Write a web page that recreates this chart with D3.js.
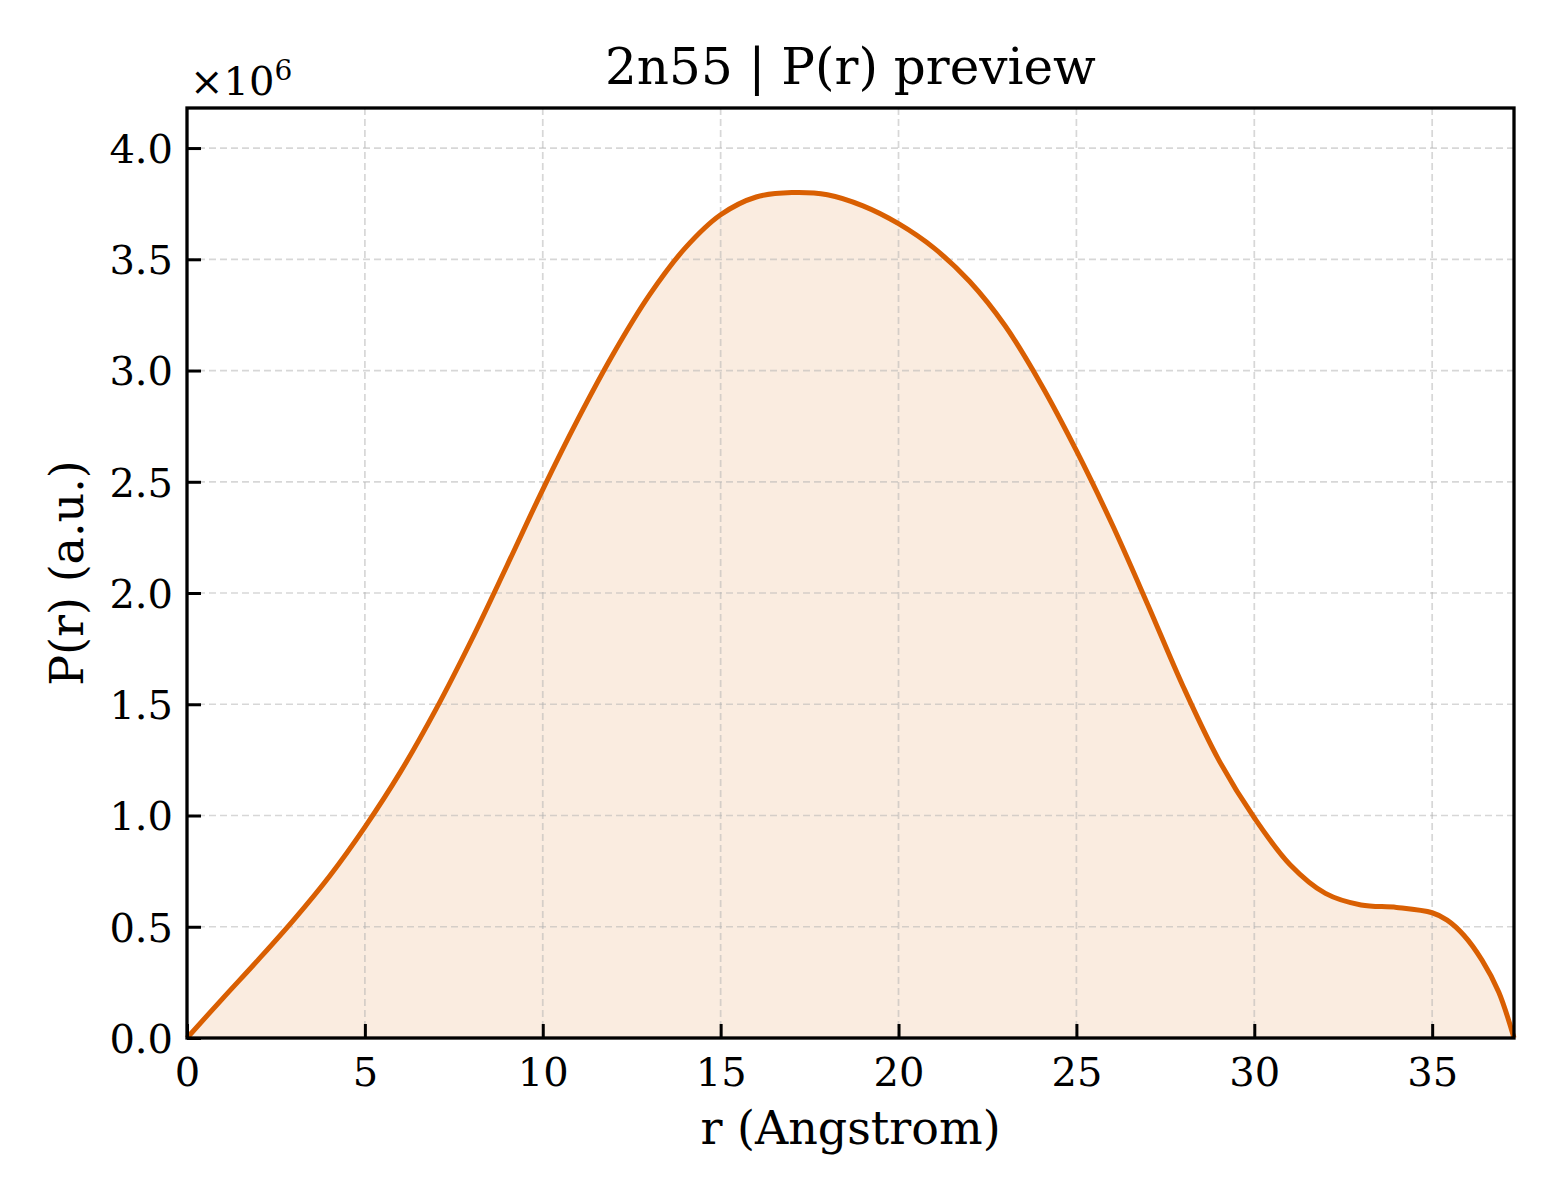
<!DOCTYPE html>
<html>
<head>
<meta charset="utf-8">
<script src="https://cdn.jsdelivr.net/npm/d3@7/dist/d3.min.js"></script>
<style>
  html, body { margin: 0; padding: 0; background: #fff; }
  svg { display: block; }
  text { font-family: "DejaVu Serif", serif; fill: #000; }
</style>
</head>
<body>
<svg id="chart" width="1560" height="1200"></svg>
<script>
// Data (r in Angstrom, P(r) in units of 1e6)
const rValues = [0, 1, 2, 3, 4, 5, 6, 7, 8, 9, 10, 11, 12, 13, 14, 15, 16, 17, 18, 19, 20,
                 21, 22, 23, 24, 25, 26, 27, 28, 29, 30, 31, 32, 33, 34, 35, 35.42, 35.89, 36.4, 36.87, 37.3];
const pValues = [0, 0.177, 0.351, 0.531, 0.726, 0.948, 1.196, 1.478, 1.79, 2.125, 2.465, 2.785, 3.08, 3.34, 3.55, 3.70, 3.78, 3.80, 3.79, 3.74, 3.66,
                 3.55, 3.40, 3.20, 2.94, 2.64, 2.31, 1.95, 1.58, 1.25, 0.99, 0.78, 0.65, 0.598, 0.587, 0.563, 0.53, 0.462, 0.35, 0.207, 0];
const xTicks = [0, 5, 10, 15, 20, 25, 30, 35];
const yTicks = [0, 0.5, 1.0, 1.5, 2.0, 2.5, 3.0, 3.5, 4.0];
const titleText = "2n55 | P(r) preview";
const xLabel = "r (Angstrom)";
const yLabel = "P(r) (a.u.)";
const xDomain = [0, 37.3];
const yDomain = [0, 4.18];

const data = rValues.map((r, i) => ({ r, p: pValues[i] }));

const svg = d3.select("#chart");
const L = 187, R = 1514, T = 108, B = 1038;
const x = d3.scaleLinear().domain(xDomain).range([L, R]);
const y = d3.scaleLinear().domain(yDomain).range([B, T]);
const lineColor = "#d95f02";
const curve = d3.curveCatmullRom.alpha(0.5);

// fill
svg.append("path")
  .datum(data)
  .attr("d", d3.area().x(d => x(d.r)).y0(y(0)).y1(d => y(d.p)).curve(curve))
  .attr("fill", lineColor)
  .attr("fill-opacity", 0.12);

// grid
const grid = svg.append("g");
grid.selectAll("line.gx").data(xTicks.filter(t => t > 0)).enter().append("line")
  .attr("x1", d => x(d)).attr("x2", d => x(d)).attr("y1", T).attr("y2", B)
  .attr("stroke", "#b0b0b0").attr("stroke-opacity", 0.5).attr("stroke-width", 1.7)
  .attr("stroke-dasharray", "7,4");
grid.selectAll("line.gy").data(yTicks.filter(t => t > 0)).enter().append("line")
  .attr("x1", L).attr("x2", R).attr("y1", d => y(d)).attr("y2", d => y(d))
  .attr("stroke", "#b0b0b0").attr("stroke-opacity", 0.5).attr("stroke-width", 1.7)
  .attr("stroke-dasharray", "7,4");

// line
svg.append("path")
  .datum(data)
  .attr("d", d3.line().x(d => x(d.r)).y(d => y(d.p)).curve(curve))
  .attr("fill", "none")
  .attr("stroke", lineColor)
  .attr("stroke-width", 5)
  .attr("stroke-linejoin", "round");

// axes (ticks inward)
const xAxis = d3.axisBottom(x).tickValues(xTicks).tickFormat(d3.format("d"))
  .tickSizeInner(-14).tickSizeOuter(0).tickPadding(20);
const yAxis = d3.axisLeft(y).tickValues(yTicks).tickFormat(d3.format(".1f"))
  .tickSizeInner(-14).tickSizeOuter(0).tickPadding(14);

const gx = svg.append("g").attr("transform", `translate(0,${B})`).call(xAxis);
const gy = svg.append("g").attr("transform", `translate(${L},0)`).call(yAxis);
[gx, gy].forEach(g => {
  g.select(".domain").remove();
  g.selectAll(".tick line").attr("stroke", "#000").attr("stroke-width", 3);
  g.selectAll(".tick text").style("font-family", "DejaVu Serif").style("font-size", "40px").attr("fill", "#000");
});
gx.selectAll(".tick text").attr("dy", "0.71em");
gy.selectAll(".tick text").attr("dy", "0.36em");

// frame
svg.append("rect").attr("x", L).attr("y", T).attr("width", R - L).attr("height", B - T)
  .attr("fill", "none").attr("stroke", "#000").attr("stroke-width", 3.3);

// title
svg.append("text").attr("x", (L + R) / 2).attr("y", 84).attr("text-anchor", "middle")
  .style("font-size", "50px").text(titleText);

// offset text
const off = svg.append("text").attr("x", 190).attr("y", 95).style("font-size", "40px");
off.append("tspan").text("×10");
off.append("tspan").attr("dy", -15).style("font-size", "28px").text("6");

// axis labels
svg.append("text").attr("x", (L + R) / 2).attr("y", 1144).attr("text-anchor", "middle")
  .style("font-size", "46px").text(xLabel);
svg.append("text").attr("transform", `translate(83,${(T + B) / 2}) rotate(-90)`)
  .attr("text-anchor", "middle").style("font-size", "46px").text(yLabel);
</script>
</body>
</html>
